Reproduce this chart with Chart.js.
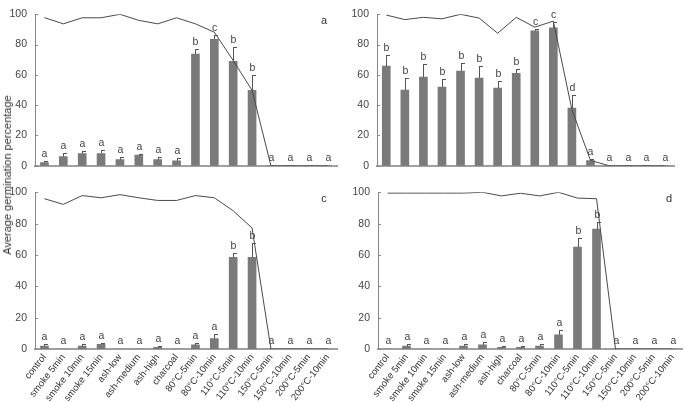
<!DOCTYPE html>
<html lang="en">
<head>
<meta charset="UTF-8" />
<title>Average germination percentage</title>
<script src="https://cdn.jsdelivr.net/npm/chart.js"></script>
<style>
  body { margin: 0; background: #fff; font-family: "Liberation Sans", Arial, sans-serif; }
  #wrap { position: relative; width: 685px; height: 402px; overflow: hidden; }
  .panel { position: absolute; }
  #ytitle {
    position: absolute; left: 7px; top: 175px;
    transform: translate(-50%, -50%) rotate(-90deg);
    white-space: nowrap; font-size: 11px; color: #333;
  }
</style>
</head>
<body>
<div id="wrap">
  <div class="panel" style="left:0;top:0"><canvas id="pa" width="345" height="180"></canvas></div>
  <div class="panel" style="left:342px;top:0"><canvas id="pb" width="343" height="180"></canvas></div>
  <div class="panel" style="left:0;top:178px"><canvas id="pc" width="345" height="224"></canvas></div>
  <div class="panel" style="left:342px;top:178px"><canvas id="pd" width="343" height="224"></canvas></div>
  <div id="ytitle">Average germination percentage</div>
</div>

<script>
// categories and tick labels
const categories = ["control", "smoke 5min", "smoke 10min", "smoke 15min", "ash-low", "ash-medium",
  "ash-high", "charcoal", "80°C-5min", "80°C-10min", "110°C-5min", "110°C-10min",
  "150°C-5min", "150°C-10min", "200°C-5min", "200°C-10min"];
const yTicks = [0, 20, 40, 60, 80, 100];

// panel a
const germA = [2, 6, 8, 8, 4, 7, 4, 3.2, 73.7, 83.5, 69, 49.8, 0, 0, 0, 0];
const errA = [1, 2.2, 1.5, 2.7, 1.5, 0.6, 2, 2, 3.2, 2.5, 9.3, 9.8, 0, 0, 0, 0];
const letA = ["a", "a", "a", "a", "a", "a", "a", "a", "b", "c", "b", "b", "a", "a", "a", "a"];
const viabA = [97.8, 93.7, 97.7, 97.7, 100, 96, 93.7, 97.7, 93.7, 88.2, 69.5, 49.8, 0, 0, 0, 0];

// panel b
const germB = [65.8, 50, 58.5, 52, 62.5, 57.8, 51.3, 61, 89, 91, 38, 3.3, 0, 0, 0, 0];
const errB = [7.2, 8, 8.7, 5, 5.5, 8, 4.8, 3, 1.5, 3.8, 8.5, 1.3, 0, 0, 0, 0];
const letB = ["b", "b", "b", "b", "b", "b", "b", "b", "c", "c", "d", "a", "a", "a", "a", "a"];
const viabB = [99.5, 96.5, 98, 97, 100, 97.5, 87.5, 98, 91.5, 95.5, 37, 3.5, 0, 0, 0, 0];

// panel c
const germC = [1.9, 0, 1.9, 3, 0, 0, 1, 0, 2.6, 6.6, 58.5, 58.5, 0, 0, 0, 0];
const errC = [1.2, 0, 1.2, 1, 0, 0, 1, 0, 1.3, 3.2, 3, 9.3, 0, 0, 0, 0];
const letC = ["a", "a", "a", "a", "a", "a", "a", "a", "a", "a", "b", "b", "a", "a", "a", "a"];
const viabC = [95.9, 92.3, 97.9, 96.5, 98.5, 96.5, 94.8, 94.8, 97.9, 96.5, 88.2, 77.2, 0, 0, 0, 0];

// panel d
const germD = [0, 1.9, 0, 0, 1.9, 2.7, 1, 1, 1.9, 9.1, 65, 76.6, 0, 0, 0, 0];
const errD = [0, 1.2, 0, 0, 1.2, 1.7, 0.7, 0.7, 1.2, 3.1, 5.7, 4.5, 0, 0, 0, 0];
const letD = ["a", "a", "a", "a", "a", "a", "a", "a", "a", "a", "b", "b", "a", "a", "a", "a"];
const viabD = [99.5, 99.5, 99.5, 99.5, 99.5, 100, 97.7, 99.4, 97.7, 100, 96.3, 95.9, 0, 0, 0, 0];

const FONT = "'Liberation Sans', Arial, sans-serif";

const panels = {
  pa: { germ: germA, err: errA, letters: letA, viab: viabA, tag: "a", yw: 35, padR: 8, xh: 12, labels: false },
  pb: { germ: germB, err: errB, letters: letB, viab: viabB, tag: "", yw: 35, padR: 11, xh: 12, labels: false },
  pc: { germ: germC, err: errC, letters: letC, viab: viabC, tag: "c", yw: 35, padR: 8, xh: 53, labels: true },
  pd: { germ: germD, err: errD, letters: letD, viab: viabD, tag: "d", yw: 36, padR: 3, xh: 53, labels: true }
};

// error bars, letters, inner y ticks, panel tag
const marks = {
  id: "marks",
  afterDatasetsDraw(chart) {
    const p = panels[chart.canvas.id];
    const { ctx } = chart;
    const x = chart.scales.x, y = chart.scales.y;
    ctx.save();
    ctx.strokeStyle = "#888";
    ctx.lineWidth = 1;
    yTicks.forEach(v => {
      const py = Math.round(y.getPixelForValue(v)) + 0.5;
      ctx.beginPath();
      ctx.moveTo(x.left, py);
      ctx.lineTo(x.left + 3, py);
      ctx.stroke();
    });

    ctx.strokeStyle = "#555";
    ctx.fillStyle = "#444";
    ctx.font = "10.5px " + FONT;
    ctx.textAlign = "center";
    ctx.textBaseline = "alphabetic";
    p.germ.forEach((g, i) => {
      const cx = Math.round(x.getPixelForValue(i)) + 0.5;
      const top = y.getPixelForValue(g);
      const etop = y.getPixelForValue(g + p.err[i]);
      if (p.err[i] > 0) {
        const ey = Math.round(etop) + 0.5;
        ctx.beginPath();
        ctx.moveTo(cx, top);
        ctx.lineTo(cx, ey);
        ctx.moveTo(cx - 0.5, ey);
        ctx.lineTo(cx + 3.5, ey);
        ctx.stroke();
      }
      ctx.fillText(p.letters[i], cx, Math.min(etop, y.bottom - 1) - 4);
    });

    if (p.tag) {
      ctx.font = "11px " + FONT;
      ctx.fillStyle = "#333";
      ctx.textBaseline = "middle";
      ctx.fillText(p.tag, x.right - 13, y.top + 7);
    }
    ctx.restore();
  }
};

Object.keys(panels).forEach(id => {
  const p = panels[id];
  new Chart(document.getElementById(id), {
    type: "bar",
    data: {
      labels: categories,
      datasets: [
        {
          type: "line",
          data: p.viab,
          borderColor: "#4a4a4a",
          borderWidth: 1,
          pointRadius: 0,
          tension: 0,
          order: 0
        },
        {
          type: "bar",
          data: p.germ,
          backgroundColor: "#7a7a7a",
          barThickness: 8,
          order: 1
        }
      ]
    },
    options: {
      responsive: false,
      animation: false,
      events: [],
      layout: { padding: { top: 10, right: p.padR, bottom: 0, left: 0 } },
      plugins: { legend: { display: false }, tooltip: { enabled: false } },
      scales: {
        x: {
          grid: { display: false, drawTicks: false },
          border: { color: "#a0a0a0", width: 2 },
          ticks: {
            display: p.labels,
            autoSkip: false,
            maxRotation: 52,
            minRotation: 52,
            padding: 3,
            color: "#333",
            font: { family: FONT, size: 9.5 }
          },
          afterFit(s) { s.height = p.xh; }
        },
        y: {
          min: 0,
          max: 100,
          grid: { display: false, drawTicks: false },
          border: { color: "#888", width: 1 },
          afterBuildTicks(s) { s.ticks = yTicks.map(v => ({ value: v })); },
          ticks: { padding: 8, color: "#444", font: { family: FONT, size: 10.5 } },
          afterFit(s) { s.width = p.yw; }
        }
      }
    },
    plugins: [marks]
  });
});
</script>
</body>
</html>
